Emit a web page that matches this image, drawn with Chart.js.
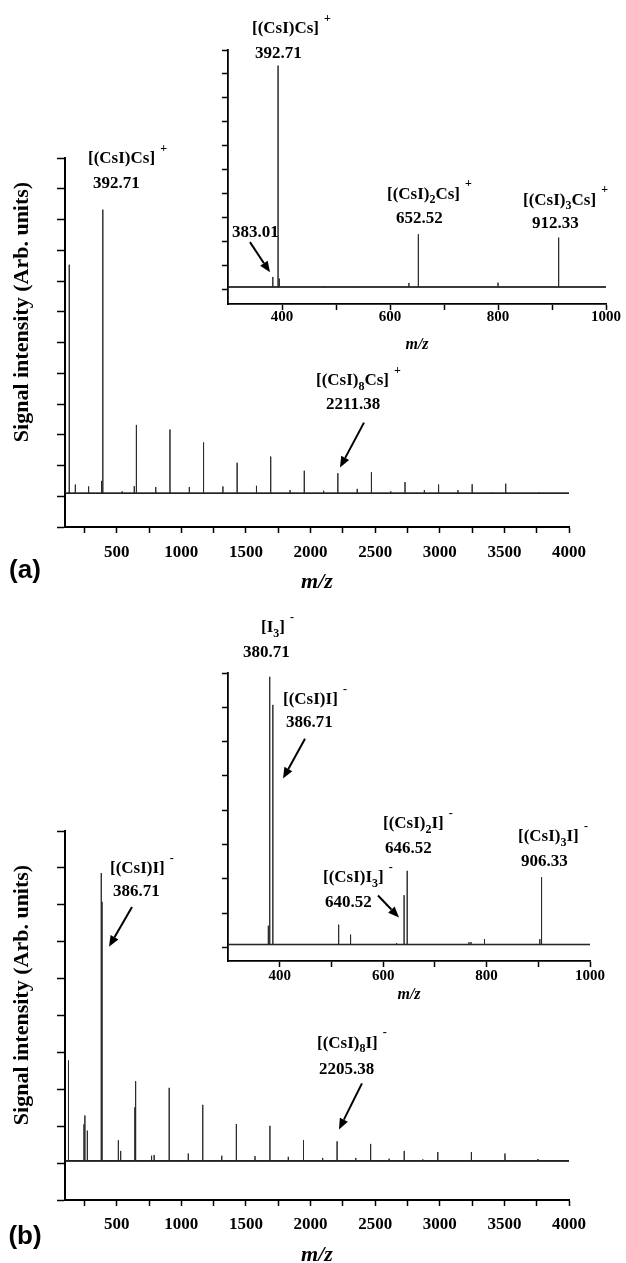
<!DOCTYPE html>
<html><head><meta charset="utf-8">
<script src="https://cdn.jsdelivr.net/npm/chart.js@4.4.1/dist/chart.umd.min.js"></script>
<style>
html,body{margin:0;padding:0;background:#fff;overflow:hidden;width:626px;height:1263px;}
canvas{position:absolute;}
</style></head><body>
<canvas id="mainA" width="626" height="600" style="left:0;top:0;width:626px;height:600px"></canvas>
<canvas id="insetA" width="426" height="360" style="left:200px;top:0;width:426px;height:360px"></canvas>
<canvas id="mainB" width="626" height="672" style="left:0;top:600px;width:626px;height:672px"></canvas>
<canvas id="insetB" width="426" height="420" style="left:200px;top:590px;width:426px;height:420px"></canvas>
<script>
// ---------- DATA ----------
// Panel (a) main spectrum (positive ions), m/z and intensity (arb. units)
const mainA_mz  = [132.9, 180, 282.7, 383.01, 392.71, 542.5, 636, 652.52, 802.3, 912.33, 1062.1, 1172.14, 1321.9, 1431.95, 1581.7, 1691.76, 1841.5, 1951.57, 2101.3, 2211.38, 2361.1, 2471.19, 2620.9, 2731.0, 2880.7, 2990.81, 3140.5, 3250.62, 3400.3, 3510.43, 3660.1, 3770.24];
const mainA_int = [7.53, 0.38, 0.32, 0.5, 9.32, 0.16, 0.33, 2.32, 0.3, 2.17, 0.3, 1.75, 0.32, 1.09, 0.34, 1.29, 0.2, 0.83, 0.18, 0.75, 0.24, 0.78, 0.16, 0.46, 0.2, 0.38, 0.2, 0.39, 0.12, 0.41, 0.1, 0.12];
const mainA_base = 0.1;
// Panel (a) inset
const insetA_mz  = [383.01, 392.71, 395, 478, 540, 635, 652.52, 800, 912.33];
const insetA_int = [0.53, 9.35, 0.46, 0.15, 0.14, 0.28, 2.31, 0.29, 2.17];
const insetA_base = 0.11;
// Panel (b) main spectrum (negative ions)
const mainB_mz  = [126.9, 247, 253.8, 272.9, 380.71, 386.71, 513, 531, 640.52, 646.52, 770, 790, 906.33, 1054, 1166.14, 1313, 1425.95, 1570, 1685.76, 1828, 1945.57, 2094, 2205.38, 2350, 2465.19, 2608, 2725.0, 2869, 2984.81, 3244.62, 3504.43, 3760];
const mainB_int = [2.78, 1.05, 1.29, 0.88, 7.86, 7.08, 0.62, 0.33, 1.51, 2.22, 0.2, 0.22, 2.04, 0.26, 1.58, 0.2, 1.06, 0.19, 1.01, 0.17, 0.62, 0.14, 0.59, 0.14, 0.52, 0.12, 0.33, 0.1, 0.3, 0.3, 0.26, 0.11];
const mainB_base = 0.06;
// Panel (b) inset
const insetB_mz  = [378, 380.71, 386.71, 514, 537, 626, 640.52, 646.52, 766, 770, 796, 903, 906.33, 940];
const insetB_int = [0.63, 7.89, 7.07, 0.66, 0.37, 0.12, 1.52, 2.23, 0.15, 0.15, 0.24, 0.24, 2.05, 0.08];
const insetB_base = 0.08;

// Tick values / labels
const mainXTicks  = [250, 500, 750, 1000, 1250, 1500, 1750, 2000, 2250, 2500, 2750, 3000, 3250, 3500, 3750, 4000];
const mainXLabels = [500, 1000, 1500, 2000, 2500, 3000, 3500, 4000];
const insetXTicks  = [400, 500, 600, 700, 800, 900, 1000];
const insetXLabels = [400, 600, 800, 1000];
const mainAYTicks  = [-1, 0, 1, 2, 3, 4, 5, 6, 7, 8, 9, 10, 11];
const mainBYTicks  = [-1, 0, 1, 2, 3, 4, 5, 6, 7, 8, 9];
const insetAYTicks = [0, 1, 2, 3, 4, 5, 6, 7, 8, 9, 10];
const insetBYTicks = [0, 1, 2, 3, 4, 5, 6, 7, 8];

// Peak annotations (anchored in data coordinates: m/z, intensity)
const annotMainA = [
  {x: 278, y: 10.97, parts: [['[(CsI)Cs]'], ['+', 'sup']]},
  {x: 316.7, y: 10.16, parts: [['392.71']]},
  {x: 2042, y: 3.76, parts: [['[(CsI)'], ['8', 'sub'], ['Cs]'], ['+', 'sup']]},
  {x: 2119.7, y: 2.98, parts: [['2211.38']]}
];
const arrowsMainA = [[2413.7, 2.395, 2228, 0.933]];
const annotInsetA = [
  {x: 344.4, y: 10.88, parts: [['[(CsI)Cs]'], ['+', 'sup']]},
  {x: 350, y: 9.87, parts: [['392.71']]},
  {x: 307.4, y: 2.39, parts: [['383.01']]},
  {x: 594.4, y: 3.98, parts: [['[(CsI)'], ['2', 'sub'], ['Cs]'], ['+', 'sup']]},
  {x: 611.1, y: 2.98, parts: [['652.52']]},
  {x: 846.3, y: 3.73, parts: [['[(CsI)'], ['3', 'sub'], ['Cs]'], ['+', 'sup']]},
  {x: 863, y: 2.77, parts: [['912.33']]}
];
const arrowsInsetA = [[340.7, 1.98, 377.8, 0.72]];
const annotMainB = [
  {x: 448.2, y: 7.98, parts: [['[(CsI)I]'], ['-', 'sup']]},
  {x: 471.4, y: 7.35, parts: [['386.71']]},
  {x: 2050, y: 3.25, parts: [['[(CsI)'], ['8', 'sub'], ['I]'], ['-', 'sup']]},
  {x: 2065.5, y: 2.54, parts: [['2205.38']]}
];
const arrowsMainB = [[618.5, 6.94, 440.5, 5.86], [2398, 2.16, 2220, 0.91]];
const annotInsetB = [
  {x: 363.8, y: 9.32, parts: [['[I'], ['3', 'sub'], [']'], ['-', 'sup']]},
  {x: 329, y: 8.6, parts: [['380.71']]},
  {x: 406.4, y: 7.23, parts: [['[(CsI)I]'], ['-', 'sup']]},
  {x: 412.2, y: 6.55, parts: [['386.71']]},
  {x: 599.7, y: 3.61, parts: [['[(CsI)'], ['2', 'sub'], ['I]'], ['-', 'sup']]},
  {x: 603.6, y: 2.88, parts: [['646.52']]},
  {x: 483.7, y: 2.03, parts: [['[(CsI)I'], ['3', 'sub'], [']'], ['-', 'sup']]},
  {x: 487.6, y: 1.30, parts: [['640.52']]},
  {x: 860.8, y: 3.23, parts: [['[(CsI)'], ['3', 'sub'], ['I]'], ['-', 'sup']]},
  {x: 866.6, y: 2.5, parts: [['906.33']]}
];
const arrowsInsetB = [[448.9, 6.08, 406.4, 4.92], [590, 1.51, 630.7, 0.87]];

// ---------- RENDERING ----------
const SERIF = '"Liberation Serif", "Times New Roman", "DejaVu Serif", serif';
Chart.defaults.color = '#000';

function spectrum(mz, inten, base, xmin, xmax) {
  const pts = [{x: xmin, y: base}];
  for (let i = 0; i < mz.length; i++) {
    pts.push({x: mz[i], y: base}, {x: mz[i], y: inten[i]}, {x: mz[i], y: base});
  }
  pts.push({x: xmax, y: base});
  return pts;
}

function drawRich(ctx, parts, x, y, size) {
  let cx = x;
  parts.forEach(([t, k]) => {
    let fs = size, dy = 0;
    if (k === 'sub') { fs = Math.round(size * 0.72); dy = size * 0.36; }
    if (k === 'sup') { fs = Math.round(size * 0.72); dy = -size * 0.58; cx += size * 0.3; }
    ctx.font = 'bold ' + fs + 'px ' + SERIF;
    ctx.fillText(t, cx, y + dy);
    cx += ctx.measureText(t).width;
  });
}

function drawArrow(ctx, x1, y1, x2, y2, w) {
  const ang = Math.atan2(y2 - y1, x2 - x1), hl = 11, hw = 4.5;
  const bx = x2 - hl * Math.cos(ang), by = y2 - hl * Math.sin(ang);
  ctx.lineWidth = w;
  ctx.beginPath(); ctx.moveTo(x1, y1); ctx.lineTo(bx, by); ctx.stroke();
  ctx.beginPath(); ctx.moveTo(x2, y2);
  ctx.lineTo(bx + hw * Math.sin(ang), by - hw * Math.cos(ang));
  ctx.lineTo(bx - hw * Math.sin(ang), by + hw * Math.cos(ang));
  ctx.closePath(); ctx.fill();
}

const extras = {};
const annotPlugin = {
  id: 'annotDraw',
  afterDatasetsDraw(chart) {
    const e = extras[chart.canvas.id];
    if (!e) return;
    const ctx = chart.ctx, xs = chart.scales.x, ys = chart.scales.y;
    ctx.save();
    ctx.fillStyle = '#000'; ctx.strokeStyle = '#000';
    ctx.textBaseline = 'middle'; ctx.textAlign = 'left';
    e.labels.forEach(l => drawRich(ctx, l.parts, xs.getPixelForValue(l.x), ys.getPixelForValue(l.y), e.size));
    e.arrows.forEach(a => drawArrow(ctx, xs.getPixelForValue(a[0]), ys.getPixelForValue(a[1]),
                                         xs.getPixelForValue(a[2]), ys.getPixelForValue(a[3]), e.arrowW));
    (e.texts || []).forEach(t => {
      ctx.save();
      ctx.font = t.font; ctx.textAlign = 'center'; ctx.textBaseline = 'middle';
      ctx.translate(t.x, t.y);
      if (t.rot) ctx.rotate(t.rot);
      ctx.fillText(t.text, 0, 0);
      ctx.restore();
    });
    ctx.restore();
  }
};

function buildChart(id, o) {
  extras[id] = o.extra;
  return new Chart(document.getElementById(id), {
    type: 'scatter',
    data: {datasets: [
      {data: spectrum(o.mz, o.int, o.base, o.xMin, o.xMax), showLine: true, borderColor: '#2a2a2a',
       borderWidth: 1, pointRadius: 0, tension: 0},
      {data: [{x: o.xMin, y: o.base}, {x: o.xMax, y: o.base}], showLine: true, borderColor: '#111',
       borderWidth: 1.6, pointRadius: 0}
    ]},
    options: {
      responsive: false, animation: false, events: [],
      layout: {padding: o.padding},
      plugins: {legend: {display: false}, tooltip: {enabled: false}},
      scales: {
        x: {
          type: 'linear', min: o.xMin, max: o.xMax,
          afterBuildTicks: s => { s.ticks = o.xTicks.map(v => ({value: v})); },
          afterFit: s => { s.height = o.xHeight; },
          ticks: {autoSkip: false, maxRotation: 0, minRotation: 0, padding: o.labelPad, color: '#000',
                  font: {family: SERIF, size: o.tickSize, weight: 'bold', lineHeight: o.tickLH},
                  callback: v => o.xLabels.includes(v) ? String(v) : ''},
          grid: {display: true, drawOnChartArea: false, drawTicks: true, tickLength: 6, tickColor: '#000', tickWidth: 1.5},
          border: {display: true, color: '#000', width: o.axisW},
          title: {display: true, text: 'm/z', color: '#000',
                  font: {family: SERIF, size: o.titleSize, weight: 'bold', style: 'italic'},
                  padding: {top: 0, bottom: o.titlePb}}
        },
        y: {
          type: 'linear', min: o.yMin, max: o.yMax,
          afterBuildTicks: s => { s.ticks = o.yTicks.map(v => ({value: v})); },
          afterFit: s => { s.width = o.yWidth; },
          ticks: {display: false},
          grid: {display: true, drawOnChartArea: false, drawTicks: true, tickLength: o.yTickLen, tickColor: '#000', tickWidth: 1.5},
          border: {display: true, color: '#000', width: o.axisW}
        }
      }
    },
    plugins: [annotPlugin]
  });
}

const yTitle = 'Signal intensity (Arb. units)';

buildChart('mainA', {
  mz: mainA_mz, int: mainA_int, base: mainA_base, xMin: 100, xMax: 4000, yMin: -1, yMax: 11,
  xTicks: mainXTicks, xLabels: mainXLabels, yTicks: mainAYTicks,
  padding: {left: 0, right: 57, top: 158, bottom: 0}, yWidth: 65, xHeight: 73, yTickLen: 8,
  tickSize: 17, tickLH: 1.2, labelPad: 9.8, titleSize: 22, titlePb: 4.8, axisW: 2,
  extra: {labels: annotMainA, arrows: arrowsMainA, size: 17, arrowW: 2,
          texts: [{text: yTitle, font: 'bold 22px ' + SERIF, x: 22, y: 312, rot: -Math.PI / 2},
                  {text: '(a)', font: 'bold 26px "Liberation Sans", Arial, sans-serif', x: 25, y: 571}]}
});

buildChart('insetA', {
  mz: insetA_mz, int: insetA_int, base: insetA_base, xMin: 300, xMax: 1000, yMin: -0.6, yMax: 10,
  xTicks: insetXTicks, xLabels: insetXLabels, yTicks: insetAYTicks,
  padding: {left: 0, right: 20, top: 50, bottom: 0}, yWidth: 28, xHeight: 56, yTickLen: 6,
  tickSize: 15, tickLH: 1.0, labelPad: 0, titleSize: 16, titlePb: 5.4, axisW: 1.8,
  extra: {labels: annotInsetA, arrows: arrowsInsetA, size: 17, arrowW: 2}
});

buildChart('mainB', {
  mz: mainB_mz, int: mainB_int, base: mainB_base, xMin: 100, xMax: 4000, yMin: -1, yMax: 9,
  xTicks: mainXTicks, xLabels: mainXLabels, yTicks: mainBYTicks,
  padding: {left: 0, right: 57, top: 231, bottom: 0}, yWidth: 65, xHeight: 72, yTickLen: 8,
  tickSize: 17, tickLH: 1.2, labelPad: 8.8, titleSize: 22, titlePb: 3.8, axisW: 2,
  extra: {labels: annotMainB, arrows: arrowsMainB, size: 17, arrowW: 2,
          texts: [{text: yTitle, font: 'bold 22px ' + SERIF, x: 22, y: 395, rot: -Math.PI / 2},
                  {text: '(b)', font: 'bold 26px "Liberation Sans", Arial, sans-serif', x: 25, y: 637}]}
});

buildChart('insetB', {
  mz: insetB_mz, int: insetB_int, base: insetB_base, xMin: 300, xMax: 1000, yMin: -0.4, yMax: 8,
  xTicks: insetXTicks, xLabels: insetXLabels, yTicks: insetBYTicks,
  padding: {left: 0, right: 36, top: 83, bottom: 0}, yWidth: 28, xHeight: 49, yTickLen: 6,
  tickSize: 15, tickLH: 1.0, labelPad: 1.5, titleSize: 16, titlePb: 5.4, axisW: 1.8,
  extra: {labels: annotInsetB, arrows: arrowsInsetB, size: 17, arrowW: 2}
});
</script>
</body></html>
